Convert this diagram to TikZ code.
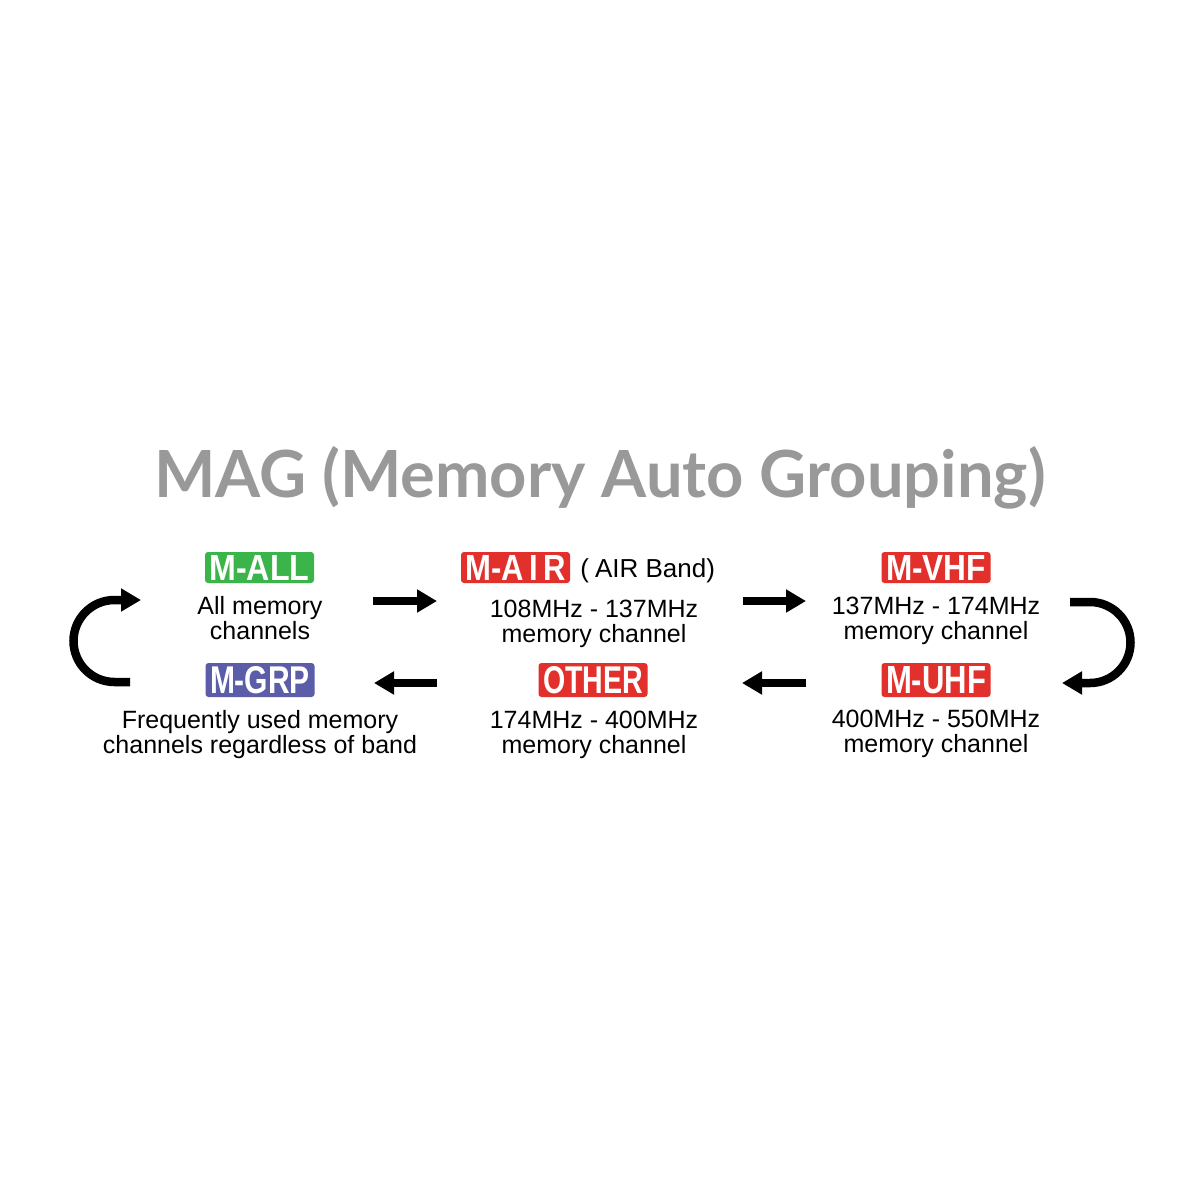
\documentclass[tikz,border=0pt]{standalone}
\usepackage{fontspec}
\setmainfont{Liberation Sans}
\newfontfamily\titlefont{Lato}
\usepackage{graphicx}
\definecolor{mgreen}{HTML}{3BB54A}
\definecolor{mred}{HTML}{E2312D}
\definecolor{mblue}{HTML}{5B5DA8}
\definecolor{titlegray}{HTML}{999999}
\usetikzlibrary{positioning, arrows.meta}
\newcommand{\grouptext}[2]{\resizebox{50pt}{#1}{\bfseries #2}}

\begin{document}
\begin{tikzpicture}[
  x=0.5pt, y=-0.5pt,
  grouptag/.style={fill=#1, text=white, rounded corners=1.5pt, minimum width=54.5pt, inner sep=0pt},
  desc/.style={align=center, anchor=base, inner sep=0pt, font=\fontsize{12.5}{12.5}\selectfont},
  flow/.style={line width=4.25pt, -{Triangle[length=10pt, width=11pt]}},
]
\path[use as bounding box, fill=white] (0,0) rectangle (1200,1200);

% Title
\node[font={\titlefont\fontsize{32.5}{40}\selectfont\bfseries}, text=titlegray, anchor=base] (title) at (600,497) {MAG (Memory Auto Grouping)};

% Groups, top row
\node[grouptag=mgreen, minimum height=15.5pt] (mall) at (259.5,567.5) {\grouptext{12.5pt}{M-ALL}};
\node[grouptag=mred, minimum height=15.5pt] (mair) at (515.5,567.5) {\grouptext{12.5pt}{M-A\,I\,R}};
\node[grouptag=mred, minimum height=15.5pt] (mvhf) at (936,567.5) {\grouptext{12.5pt}{M-VHF}};
\node[anchor=base west, inner sep=0pt, font=\fontsize{13}{13}\selectfont] (airband) at (580,577) {(\hspace{3pt}AIR Band)};

% (base = last line)
\node[desc] (mall-desc) at (260,639) {All memory\\channels};
\node[desc] (mair-desc) at (594,642) {108MHz - 137MHz\\memory channel};
\node[desc] (mvhf-desc) at (936,639) {137MHz - 174MHz\\memory channel};

% Groups, bottom row
\node[grouptag=mblue, minimum height=17pt] (mgrp) at (260,680) {\grouptext{13.5pt}{M-GRP}};
\node[grouptag=mred, minimum height=17pt] (other) at (593,680) {\grouptext{13.5pt}{OTHER}};
\node[grouptag=mred, minimum height=17pt] (muhf) at (936,680) {\grouptext{13.5pt}{M-UHF}};

\node[desc] (mgrp-desc) at (260,753) {Frequently used memory\\channels regardless of band};
\node[desc] (other-desc) at (594,753) {174MHz - 400MHz\\memory channel};
\node[desc] (muhf-desc) at (936,752) {400MHz - 550MHz\\memory channel};

% Arrow ends
\coordinate (mall-out) at (373,601);
\coordinate (mair-in) at (437,601);
\coordinate (mair-out) at (743,601);
\coordinate (mvhf-in) at (806,601);
\coordinate (mvhf-out) at (1070,602);
\coordinate (muhf-in) at (1062,683);
\coordinate (muhf-out) at (806,683);
\coordinate (other-in) at (742,683);
\coordinate (other-out) at (437,683);
\coordinate (mgrp-in) at (374,683);
\coordinate (mgrp-out) at (130,682);
\coordinate (mall-in) at (141,600);

% Cycle
\draw[flow] (mall-out) -- (mair-in);
\draw[flow] (mair-out) -- (mvhf-in);
\draw[flow] (mvhf-out) -- ++(20,0) arc[start angle=270, end angle=450, radius=40.5] -- (muhf-in);
\draw[flow] (muhf-out) -- (other-in);
\draw[flow] (other-out) -- (mgrp-in);
\draw[flow] (mgrp-out) -- ++(-15.5,0) arc[start angle=90, end angle=270, radius=41] -- (mall-in);
\end{tikzpicture}
\end{document}
